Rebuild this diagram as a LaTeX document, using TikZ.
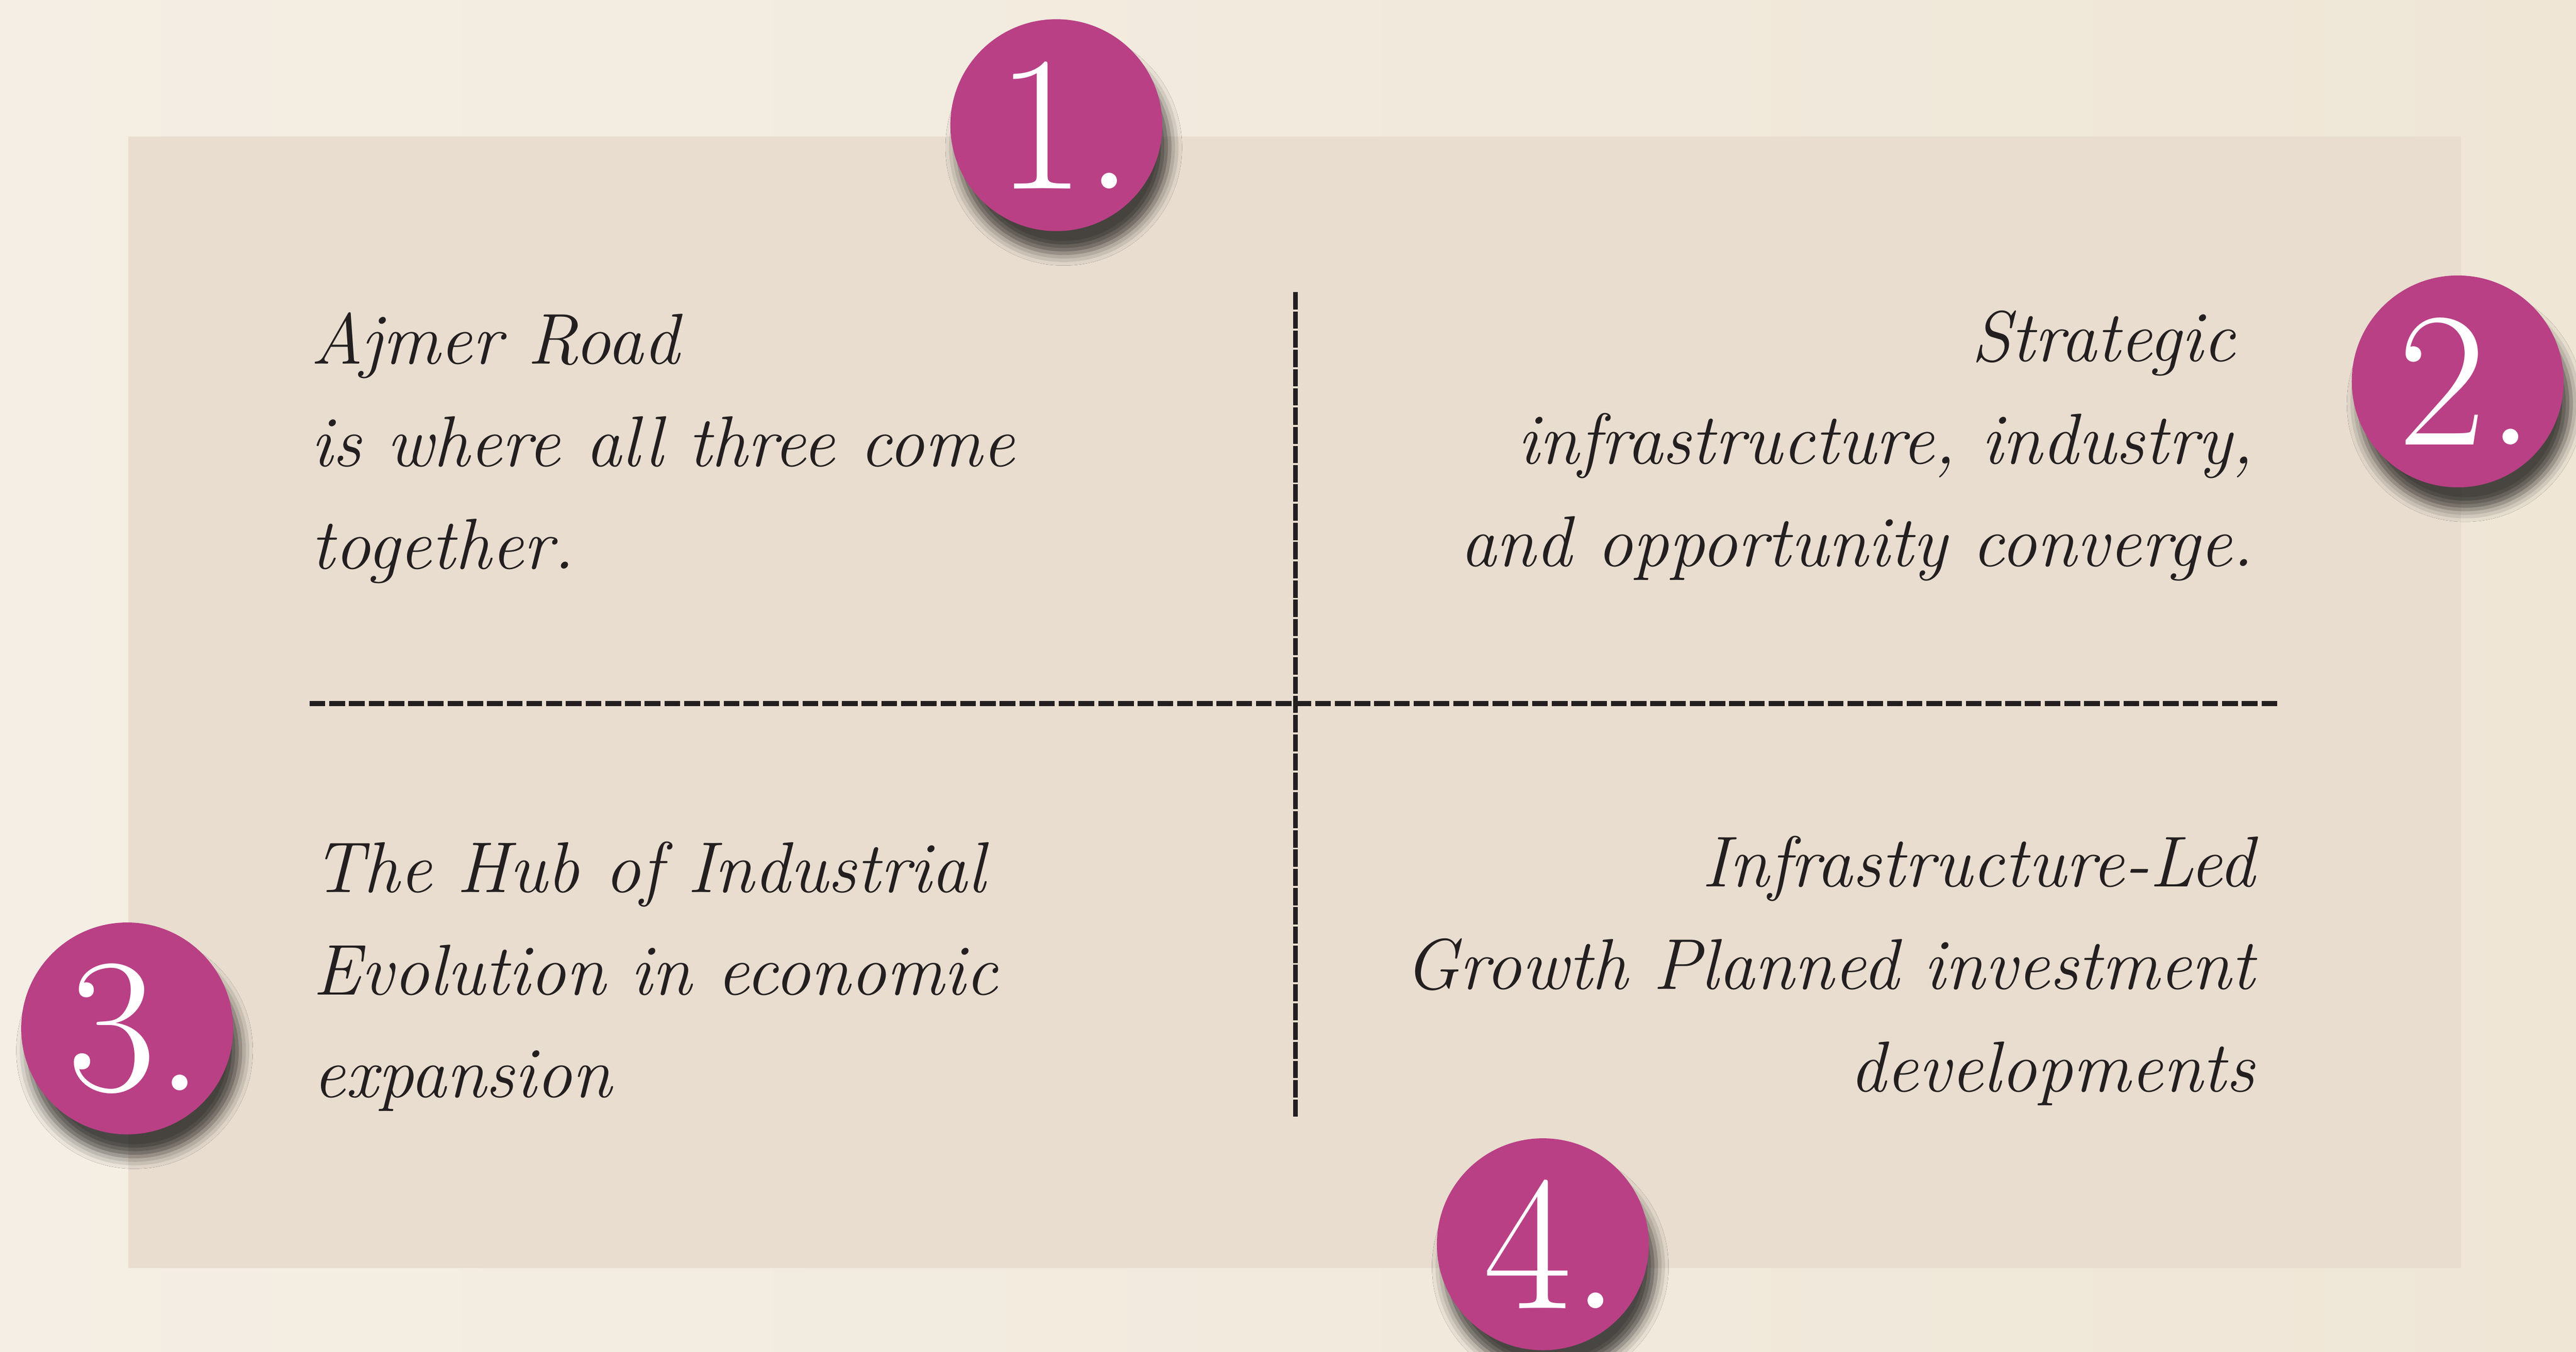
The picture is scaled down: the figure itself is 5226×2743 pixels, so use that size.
\documentclass[tikz,border=0pt]{standalone}
\usepackage{fontspec}
\usetikzlibrary{shadows.blur}
\definecolor{bgA}{HTML}{F4EEE4}
\definecolor{bgB}{HTML}{EFE6D6}
\definecolor{panelc}{HTML}{E8DDCF}
\definecolor{badgec}{RGB}{185,64,133}
\definecolor{inkc}{HTML}{231F20}
\tikzset{
  badge/.style={circle, fill=badgec, minimum size=86pt, inner sep=0pt, text=white,
    font=\fontsize{78}{80}\selectfont,
    blur shadow={shadow xshift=3pt, shadow yshift=-9pt, shadow blur radius=5pt, shadow opacity=70}},
  body/.style={inner sep=0pt, text=inkc, font=\fontsize{29.2}{41.6}\selectfont\itshape},
  hdash/.style={draw=inkc, line width=2pt, dash pattern=on 6.4pt off 1.6pt},
  vdash/.style={draw=inkc, line width=1.9pt, dash pattern=on 7pt off 0.8pt},
}
\begin{document}
\begin{tikzpicture}[x=0.2pt,y=-0.2pt]
\useasboundingbox (0,0) rectangle (5226,2743);
\shade[left color=bgA, right color=bgB] (0,0) rectangle (5226,2743);
\fill[panelc] (260,277) rectangle (4993,2573);

% dashed dividers
\coordinate (hl) at (628,1428);
\coordinate (hr) at (4623,1428);
\coordinate (vt) at (2628,593);
\coordinate (vb) at (2628,2267);
\draw[hdash] (hl) -- (hr);
\draw[vdash] (vt) -- (vb);

% texts (anchored at the baseline of the last line)
\node[body, anchor=base west, align=left] (tl) at (630,1154)
  {Ajmer Road\\is where all three come\\together.};
\node[body, anchor=base east, align=right] (tr) at (4573,1149)
  {Strategic\kern0.26em\\infrastructure, industry,\\and opportunity converge.};
\node[body, anchor=base west, align=left] (bl) at (634,2227)
  {The Hub of Industrial\\Evolution in economic\\expansion};
\node[body, anchor=base east, align=right] (br) at (4575,2215)
  {Infrastructure-Led\\Growth Planned investment\\developments};

% numbered badges
\node[badge] (n1) at (2143,254) {\kern0.09em 1.};
\node[badge] (n2) at (4986,774) {\kern0.09em 2.};
\node[badge] (n3) at (258,2087) {\kern0.09em 3.};
\node[badge] (n4) at (3130,2525) {\kern0.09em 4.};
\end{tikzpicture}
\end{document}
